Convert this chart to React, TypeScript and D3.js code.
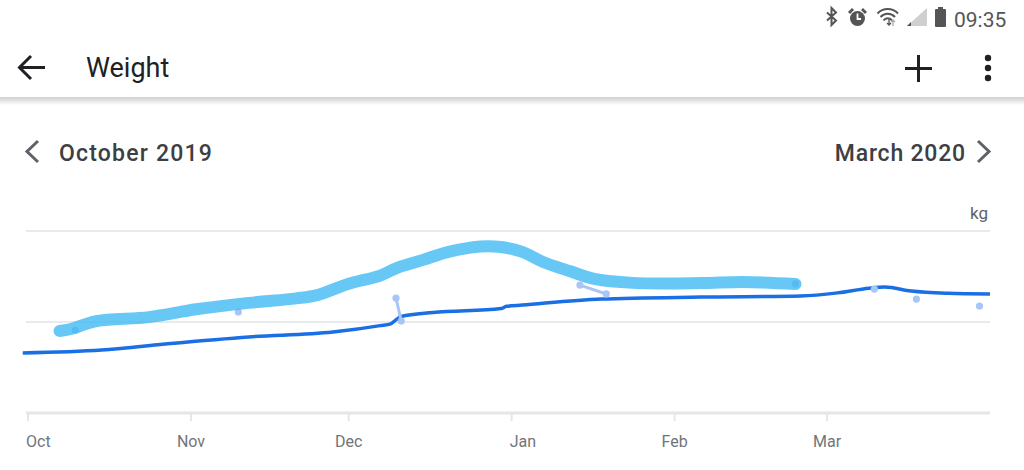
import { useMemo } from 'react';
import * as d3 from 'd3';

const WIDTH = 1024;
const HEIGHT = 470;
const PLOT = { left: 28, right: 990, top: 231, bottom: 413 };

const domainStart = '2019-10-01';
const domainEnd = '2020-04-01';
const gridValues = [60, 65, 70];

// smoothed trend line
const trendDates = [
    '2019-09-30', '2019-10-15', '2019-10-27', '2019-11-12', '2019-11-28',
    '2019-12-07', '2019-12-09', '2019-12-10', '2019-12-11', '2019-12-17',
    '2019-12-30', '2019-12-31', '2020-01-03', '2020-01-18', '2020-02-06',
    '2020-02-25', '2020-03-03', '2020-03-09', '2020-03-12', '2020-03-17',
    '2020-03-24', '2020-04-01',
];
const trendKg = [
    63.3, 63.46, 63.79, 64.18, 64.45,
    64.8, 64.9, 65.12, 65.3, 65.52,
    65.74, 65.86, 65.93, 66.26, 66.37,
    66.43, 66.6, 66.86, 66.92, 66.7,
    66.58, 66.54,
];

// single weigh-ins
const readingDates = [
    '2019-10-10', '2019-11-10', '2019-12-10', '2019-12-11', '2020-01-14',
    '2020-01-19', '2020-02-24', '2020-03-10', '2020-03-18', '2020-03-30',
];
const readingKg = [64.56, 65.55, 66.32, 65.05, 67.03, 66.54, 67.09, 66.81, 66.26, 65.88];

// hand drawn highlighter stroke over the chart
const markerDates = [
    '2019-10-07', '2019-10-09', '2019-10-14', '2019-10-24', '2019-11-02',
    '2019-11-12', '2019-11-21', '2019-11-25', '2019-12-01', '2019-12-07',
    '2019-12-10', '2019-12-15', '2019-12-20', '2019-12-26', '2019-12-30',
    '2020-01-03', '2020-01-07', '2020-01-12', '2020-01-17', '2020-01-24',
    '2020-02-06', '2020-02-14', '2020-02-24',
];
const markerKg = [
    64.51, 64.6, 65.05, 65.27, 65.7,
    66.05, 66.3, 66.48, 67.1, 67.55,
    67.95, 68.4, 68.85, 69.15, 69.12,
    68.85, 68.3, 67.8, 67.35, 67.15,
    67.14, 67.2, 67.09,
];

const LINK_DAYS = 6;
const parse = d3.timeParse('%Y-%m-%d');

type Pt = { date: Date; kg: number };
const zip = (dates: string[], kg: number[]): Pt[] =>
    dates.map((d, i) => ({ date: parse(d) as Date, kg: kg[i] }));

const FONT = 'Roboto, "Noto Sans", sans-serif';

export default function App() {
    const x = useMemo(
        () =>
            d3
                .scaleTime()
                .domain([parse(domainStart) as Date, parse(domainEnd) as Date])
                .range([PLOT.left, PLOT.right]),
        []
    );
    const y = useMemo(
        () => d3.scaleLinear().domain([60, 70]).range([PLOT.bottom, PLOT.top]),
        []
    );

    const trend = zip(trendDates, trendKg);
    const readings = zip(readingDates, readingKg);
    const marker = zip(markerDates, markerKg);

    const trendLine = d3
        .line<Pt>()
        .x((d) => x(d.date))
        .y((d) => y(d.kg))
        .curve(d3.curveMonotoneX)(trend);

    const markerLine = d3
        .line<Pt>()
        .x((d) => x(d.date))
        .y((d) => y(d.kg))
        .curve(d3.curveCatmullRom)(marker);

    // readings close together get joined
    const links = readings.slice(1).map((d, i) => [readings[i], d]).filter(
        ([a, b]) => d3.timeDay.count(a.date, b.date) <= LINK_DAYS
    );

    const months = d3.timeMonth.range(x.domain()[0], x.domain()[1]);
    const fmt = d3.timeFormat('%b');

    return (
        <svg
            width={WIDTH}
            height={HEIGHT}
            style={{ position: 'absolute', left: 0, top: 0, display: 'block', background: '#fff' }}
            fontFamily={FONT}
        >
            <defs>
                <linearGradient id="shadow" x1="0" y1="0" x2="0" y2="1">
                    <stop offset="0%" stopColor="#d2d2d2" />
                    <stop offset="35%" stopColor="#dedede" />
                    <stop offset="100%" stopColor="#ffffff" />
                </linearGradient>
            </defs>
            <rect width={WIDTH} height={HEIGHT} fill="#fff" />

            {/* status bar */}
            <g stroke="#555" fill="none" strokeWidth={2}>
                <path d="M827,12.5 L836,20.5 L831.5,25 L831.5,8 L836,12.5 L827,20.5" />
            </g>
            <g fill="#555">
                <circle cx={857.5} cy={18.5} r={7.5} />
                <path d="M848,12 l4,-4 l2,2 l-4,4 z M867,12 l-4,-4 l-2,2 l4,4 z" />
                <path d="M857.5,13.5 V19 H861" stroke="#fff" strokeWidth={1.8} fill="none" />
            </g>
            <g stroke="#555" fill="none" strokeWidth={2}>
                <path d="M877.5,13.5 A14,14 0 0 1 898,13.5" />
                <path d="M880.5,17 A9.5,9.5 0 0 1 895,17" />
                <path d="M883.5,20.5 A5,5 0 0 1 892,20.5" />
            </g>
            <path d="M889,19 v6 M887,23 l2,2 l2,-2" stroke="#555" strokeWidth={1.3} fill="none" />
            <path d="M893,26 v-6 M891,22 l2,-2 l2,2" stroke="#aaa" strokeWidth={1.3} fill="none" />
            <path d="M907,26 L927,26 L927,8 Z" fill="#cfcfcf" />
            <path d="M907,26 L911,26 L911,22 Z" fill="#555" />
            <rect x={935} y={9} width={11} height={18} rx={1} fill="#555" />
            <rect x={938} y={7} width={5} height={3} fill="#555" />
            <text x={954} y={27} fontSize={21} fill="#555">
                09:35
            </text>

            {/* app bar */}
            <path d="M45,67.5 H20 M31,56 L19.5,67.5 L31,79" stroke="#202124" strokeWidth={3} fill="none" />
            <text x={86} y={77} fontSize={27} fill="#202124">
                Weight
            </text>
            <path d="M918.5,55 V82 M905,68.5 H932" stroke="#202124" strokeWidth={3} fill="none" />
            {[58, 68, 78].map((cy) => (
                <circle key={cy} cx={988} cy={cy} r={3.2} fill="#202124" />
            ))}
            <rect x={0} y={97} width={WIDTH} height={8} fill="url(#shadow)" />

            {/* period header */}
            <path d="M38,141 L27,151.5 L38,162" stroke="#5f6368" strokeWidth={3} fill="none" />
            <text x={59} y={161} fontSize={23} fontWeight={500} fill="#3c4043" letterSpacing={1.2}>
                October 2019
            </text>
            <text
                x={966}
                y={161}
                fontSize={23}
                fontWeight={500}
                fill="#3c4043"
                textAnchor="end"
                letterSpacing={0.8}
            >
                March 2020
            </text>
            <path d="M978,141 L989,151.5 L978,162" stroke="#5f6368" strokeWidth={3} fill="none" />
            <text x={988} y={219} fontSize={17} fill="#5f6368" textAnchor="end">
                kg
            </text>

            {/* grid */}
            {gridValues.slice(1).map((v) => (
                <line
                    key={v}
                    x1={PLOT.left - 2}
                    x2={PLOT.right}
                    y1={y(v)}
                    y2={y(v)}
                    stroke="#e8eaed"
                    strokeWidth={2}
                />
            ))}
            <line
                x1={PLOT.left - 2}
                x2={PLOT.right}
                y1={y(gridValues[0])}
                y2={y(gridValues[0])}
                stroke="#e6e6e8"
                strokeWidth={3}
            />
            {months.map((m, i) => {
                const start = i === 0 || m.getMonth() === 0;
                return (
                    <g key={m.getTime()} transform={`translate(${x(m)},0)`}>
                        <line y1={PLOT.bottom} y2={PLOT.bottom + 8} stroke="#e6e6e8" strokeWidth={2} />
                        <text
                            x={start ? -2 : 0}
                            y={447}
                            fontSize={16}
                            fill="#70757a"
                            textAnchor={start ? 'start' : 'middle'}
                        >
                            {fmt(m)}
                        </text>
                    </g>
                );
            })}

            {/* data */}
            <path d={trendLine || ''} fill="none" stroke="#1a6fe4" strokeWidth={3.5} />
            {links.map(([a, b], i) => (
                <line
                    key={i}
                    x1={x(a.date)}
                    y1={y(a.kg)}
                    x2={x(b.date)}
                    y2={y(b.kg)}
                    stroke="#a8c5f7"
                    strokeWidth={3}
                />
            ))}
            {readings.map((d, i) => (
                <circle key={i} cx={x(d.date)} cy={y(d.kg)} r={3.6} fill="#a8c5f7" />
            ))}
            <path
                d={markerLine || ''}
                fill="none"
                stroke="#3db8f2"
                strokeOpacity={0.78}
                strokeWidth={12}
                strokeLinecap="round"
                strokeLinejoin="round"
            />
        </svg>
    );
}
